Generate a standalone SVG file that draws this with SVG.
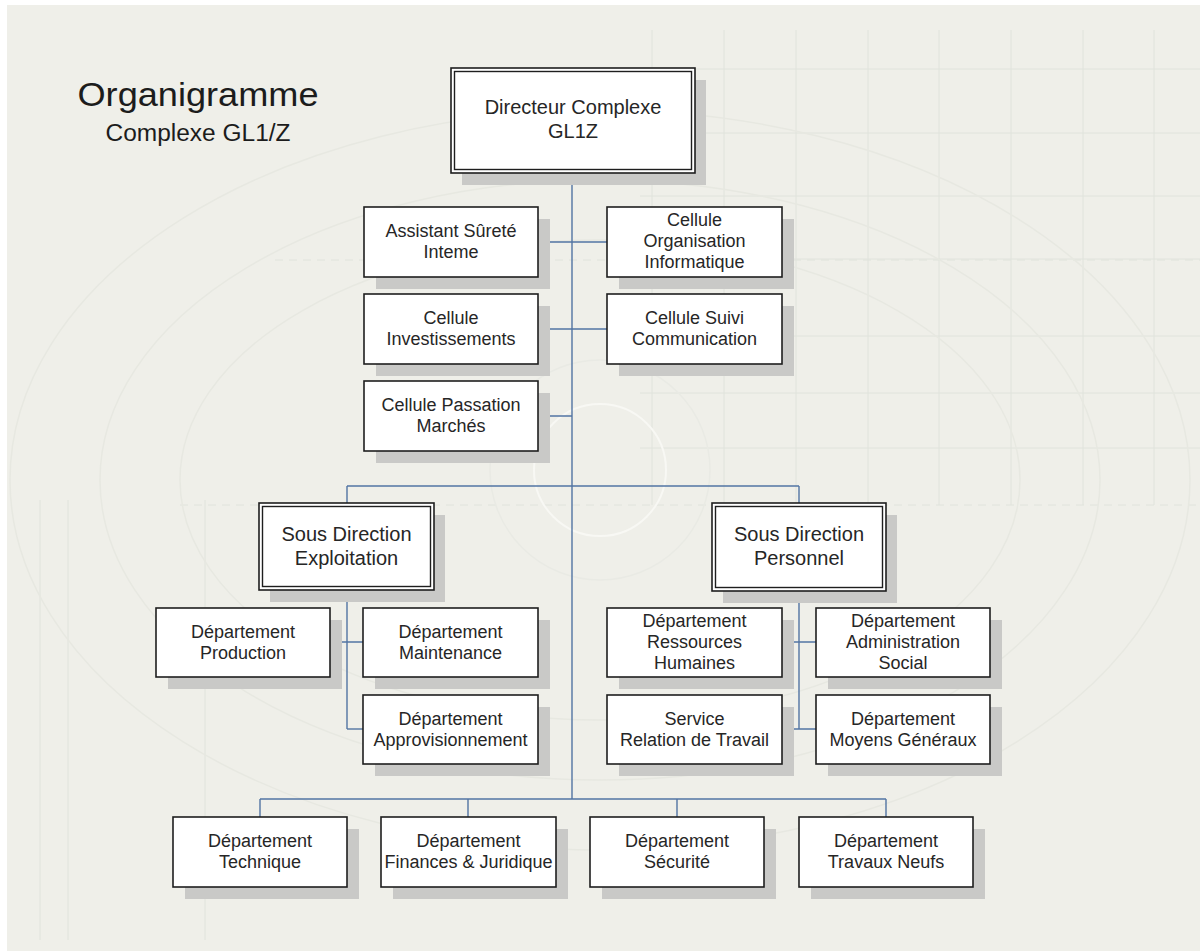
<svg xmlns="http://www.w3.org/2000/svg" width="1200" height="951" viewBox="0 0 1200 951">
<style>
.bg-grid line{stroke:#e0e3dc;stroke-width:1}
.arc{fill:none;stroke:#e7e8e1;stroke-width:1.5}
.shadow{fill:#c9c9c7}
.box{fill:#ffffff;stroke:#1e1e1e;stroke-width:1.6}
.inner{fill:none;stroke:#1e1e1e;stroke-width:1.4}
.t{font-family:"Liberation Sans",Arial,sans-serif;font-size:18px;fill:#262626;text-anchor:middle}
.t20{font-family:"Liberation Sans",Arial,sans-serif;font-size:20px;fill:#262626;text-anchor:middle}
.conn line{stroke:#5274a3;stroke-width:1.4}
</style>
<rect x="0" y="0" width="1200" height="951" fill="#ffffff"/>
<rect x="7" y="5" width="1193" height="946" fill="#efefe9"/>
<g id="background">
<g class="bg-grid">
<line x1="652" y1="30" x2="652" y2="505"/>
<line x1="724" y1="30" x2="724" y2="505"/>
<line x1="796" y1="30" x2="796" y2="505"/>
<line x1="868" y1="30" x2="868" y2="505"/>
<line x1="939" y1="30" x2="939" y2="505"/>
<line x1="1011" y1="30" x2="1011" y2="505"/>
<line x1="1083" y1="30" x2="1083" y2="505"/>
<line x1="1154" y1="30" x2="1154" y2="505"/>
<line x1="640" y1="69" x2="1200" y2="69"/>
<line x1="640" y1="133" x2="1200" y2="133"/>
<line x1="640" y1="196" x2="1200" y2="196"/>
<line x1="640" y1="259" x2="1200" y2="259"/>
<line x1="640" y1="336" x2="1200" y2="336"/>
<line x1="640" y1="393" x2="1200" y2="393"/>
<line x1="640" y1="448" x2="1200" y2="448"/>
<line x1="40" y1="500" x2="40" y2="940"/>
<line x1="68" y1="500" x2="68" y2="940"/>
<line x1="205" y1="500" x2="205" y2="940"/>
<line x1="275" y1="260" x2="1200" y2="260" stroke-dasharray="8 6"/>
<line x1="180" y1="505" x2="1200" y2="505" stroke-dasharray="8 6"/>
</g>
<ellipse class="arc" cx="600" cy="480" rx="590" ry="370"/>
<ellipse class="arc" cx="600" cy="480" rx="500" ry="300"/>
<ellipse class="arc" cx="600" cy="480" rx="420" ry="240"/>
<circle cx="600" cy="470" r="66" fill="none" stroke="#f8f8f4" stroke-width="2"/>
<circle cx="600" cy="470" r="110" fill="none" stroke="#e9eae4" stroke-width="1.5"/>
</g>
<g id="title">
<text x="198" y="106" font-family="'Liberation Sans',Arial,sans-serif" font-size="33.5" fill="#1c1c1c" text-anchor="middle" textLength="241" lengthAdjust="spacingAndGlyphs">Organigramme</text>
<text x="198" y="141" font-family="'Liberation Sans',Arial,sans-serif" font-size="23.5" fill="#1c1c1c" text-anchor="middle" textLength="185" lengthAdjust="spacingAndGlyphs">Complexe GL1/Z</text>
</g>
<g id="connectors" class="conn">
<line x1="572" y1="173" x2="572" y2="799"/>
<line x1="538" y1="242" x2="607" y2="242"/>
<line x1="538" y1="329" x2="607" y2="329"/>
<line x1="538" y1="416" x2="572" y2="416"/>
<line x1="347" y1="486" x2="799" y2="486"/>
<line x1="347" y1="486" x2="347" y2="503"/>
<line x1="799" y1="486" x2="799" y2="503"/>
<line x1="347" y1="590" x2="347" y2="729"/>
<line x1="330" y1="642" x2="363" y2="642"/>
<line x1="347" y1="729" x2="363" y2="729"/>
<line x1="799" y1="591" x2="799" y2="729"/>
<line x1="782" y1="642" x2="816" y2="642"/>
<line x1="782" y1="729" x2="816" y2="729"/>
<line x1="260" y1="799" x2="886" y2="799"/>
<line x1="260" y1="799" x2="260" y2="817"/>
<line x1="468" y1="799" x2="468" y2="817"/>
<line x1="677" y1="799" x2="677" y2="817"/>
<line x1="886" y1="799" x2="886" y2="817"/>
</g>
<g id="directeur">
<rect class="shadow" x="462" y="80" width="244" height="105"/>
<rect class="box" x="451" y="68" width="244" height="105"/>
<rect class="inner" x="454.5" y="71.5" width="237" height="98"/>
<text class="t20" x="573" y="114">Directeur Complexe</text>
<text class="t20" x="573" y="138">GL1Z</text>
</g>
<g id="assistant">
<rect class="shadow" x="376" y="219" width="174" height="70"/>
<rect class="box" x="364" y="207" width="174" height="70"/>
<text class="t" x="451" y="237">Assistant Sûreté</text>
<text class="t" x="451" y="258">Inteme</text>
</g>
<g id="cellule-organisation">
<rect class="shadow" x="619" y="219" width="175" height="70"/>
<rect class="box" x="607" y="207" width="175" height="70"/>
<text class="t" x="694.5" y="226">Cellule</text>
<text class="t" x="694.5" y="247">Organisation</text>
<text class="t" x="694.5" y="268">Informatique</text>
</g>
<g id="cellule-investissements">
<rect class="shadow" x="376" y="306" width="174" height="70"/>
<rect class="box" x="364" y="294" width="174" height="70"/>
<text class="t" x="451" y="324">Cellule</text>
<text class="t" x="451" y="345">Investissements</text>
</g>
<g id="cellule-suivi">
<rect class="shadow" x="619" y="306" width="175" height="70"/>
<rect class="box" x="607" y="294" width="175" height="70"/>
<text class="t" x="694.5" y="324">Cellule Suivi</text>
<text class="t" x="694.5" y="345">Communication</text>
</g>
<g id="cellule-passation">
<rect class="shadow" x="376" y="393" width="174" height="70"/>
<rect class="box" x="364" y="381" width="174" height="70"/>
<text class="t" x="451" y="411">Cellule Passation</text>
<text class="t" x="451" y="432">Marchés</text>
</g>
<g id="sd-exploitation">
<rect class="shadow" x="270" y="515" width="175" height="87"/>
<rect class="box" x="259" y="503" width="175" height="87"/>
<rect class="inner" x="262.5" y="506.5" width="168" height="80"/>
<text class="t20" x="346.5" y="540.5">Sous Direction</text>
<text class="t20" x="346.5" y="564.5">Exploitation</text>
</g>
<g id="sd-personnel">
<rect class="shadow" x="723" y="515" width="174" height="88"/>
<rect class="box" x="712" y="503" width="174" height="88"/>
<rect class="inner" x="715.5" y="506.5" width="167" height="81"/>
<text class="t20" x="799" y="541">Sous Direction</text>
<text class="t20" x="799" y="565">Personnel</text>
</g>
<g id="dept-production">
<rect class="shadow" x="168" y="620" width="174" height="69"/>
<rect class="box" x="156" y="608" width="174" height="69"/>
<text class="t" x="243" y="637.5">Département</text>
<text class="t" x="243" y="658.5">Production</text>
</g>
<g id="dept-maintenance">
<rect class="shadow" x="375" y="620" width="175" height="69"/>
<rect class="box" x="363" y="608" width="175" height="69"/>
<text class="t" x="450.5" y="637.5">Département</text>
<text class="t" x="450.5" y="658.5">Maintenance</text>
</g>
<g id="dept-approvisionnement">
<rect class="shadow" x="375" y="707" width="175" height="69"/>
<rect class="box" x="363" y="695" width="175" height="69"/>
<text class="t" x="450.5" y="724.5">Département</text>
<text class="t" x="450.5" y="745.5">Approvisionnement</text>
</g>
<g id="dept-rh">
<rect class="shadow" x="619" y="620" width="175" height="69"/>
<rect class="box" x="607" y="608" width="175" height="69"/>
<text class="t" x="694.5" y="627">Département</text>
<text class="t" x="694.5" y="648">Ressources</text>
<text class="t" x="694.5" y="669">Humaines</text>
</g>
<g id="dept-administration">
<rect class="shadow" x="828" y="620" width="174" height="69"/>
<rect class="box" x="816" y="608" width="174" height="69"/>
<text class="t" x="903" y="627">Département</text>
<text class="t" x="903" y="648">Administration</text>
<text class="t" x="903" y="669">Social</text>
</g>
<g id="service-relation">
<rect class="shadow" x="619" y="707" width="175" height="69"/>
<rect class="box" x="607" y="695" width="175" height="69"/>
<text class="t" x="694.5" y="724.5">Service</text>
<text class="t" x="694.5" y="745.5">Relation de Travail</text>
</g>
<g id="dept-moyens">
<rect class="shadow" x="828" y="707" width="174" height="69"/>
<rect class="box" x="816" y="695" width="174" height="69"/>
<text class="t" x="903" y="724.5">Département</text>
<text class="t" x="903" y="745.5">Moyens Généraux</text>
</g>
<g id="dept-technique">
<rect class="shadow" x="185" y="829" width="174" height="70"/>
<rect class="box" x="173" y="817" width="174" height="70"/>
<text class="t" x="260" y="847">Département</text>
<text class="t" x="260" y="868">Technique</text>
</g>
<g id="dept-finances">
<rect class="shadow" x="393" y="829" width="175" height="70"/>
<rect class="box" x="381" y="817" width="175" height="70"/>
<text class="t" x="468.5" y="847">Département</text>
<text class="t" x="468.5" y="868">Finances &amp; Juridique</text>
</g>
<g id="dept-securite">
<rect class="shadow" x="602" y="829" width="174" height="70"/>
<rect class="box" x="590" y="817" width="174" height="70"/>
<text class="t" x="677" y="847">Département</text>
<text class="t" x="677" y="868">Sécurité</text>
</g>
<g id="dept-travaux">
<rect class="shadow" x="811" y="829" width="174" height="70"/>
<rect class="box" x="799" y="817" width="174" height="70"/>
<text class="t" x="886" y="847">Département</text>
<text class="t" x="886" y="868">Travaux Neufs</text>
</g>
</svg>
